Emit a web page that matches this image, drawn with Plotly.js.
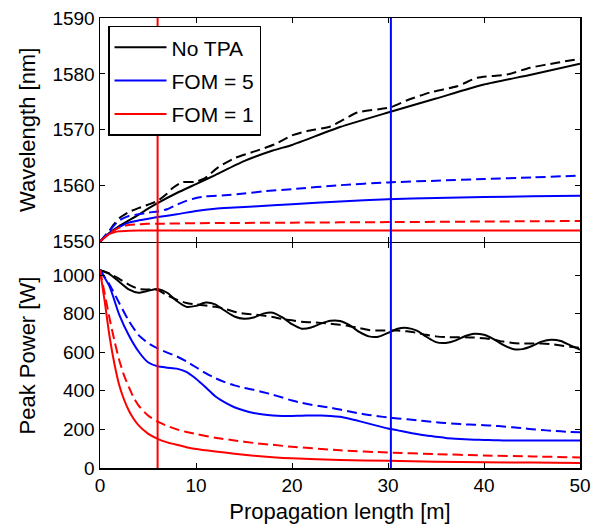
<!DOCTYPE html>
<html>
<head>
<meta charset="utf-8">
<script src="https://cdn.plot.ly/plotly-3.0.1.min.js"></script>
<style>html,body{margin:0;padding:0;background:#fff;}#chart{width:601px;height:527px;}</style>
</head>
<body>
<div id="chart"></div>
<script>
// ---- Top panel: wavelength [nm] ----
var wlNoTpaX = [0,1,2,3,4,5,6,8,10,12,15,18,20,25,30,35,40,45,50];
var wlNoTpaY = [1550,1551.6,1552.8,1553.8,1554.8,1555.9,1556.9,1558.7,1560.3,1561.9,1564.4,1566.3,1567.3,1570.5,1573.1,1575.6,1578.1,1579.9,1581.8];
var wlNoTpaDX = [0,1,1.4,2,3,4,5,6,7,7.5,8.5,9.9,10.9,12.3,14.1,16.2,18.2,20,21.6,24,26.8,30.2,32,34.4,37.2,39.3,42.4,44.8,47.6,50];
var wlNoTpaDY = [1550,1552,1553,1554.2,1555.3,1556,1556.6,1557.3,1558.6,1559.5,1560.6,1560.7,1561.3,1563.3,1565.0,1566.2,1567.4,1569.0,1569.8,1570.6,1573.1,1574.0,1575.3,1576.7,1577.8,1579.3,1579.9,1581.1,1582.0,1582.7];
var wlFom5X = [0,1,2,3,4,5,6,8,10,12,14,16,20,25,30,35,40,45,50];
var wlFom5Y = [1550,1551.5,1552.6,1553.4,1553.8,1554.1,1554.4,1554.9,1555.5,1555.9,1556.1,1556.3,1556.7,1557.2,1557.6,1557.8,1558.0,1558.1,1558.2];
var wlFom5DX = [0,1,2,3,4,5,6,7,8,9,10,11,13,15,17,20,25,30,35,40,45,50];
var wlFom5DY = [1550,1552,1553.8,1554.6,1554.9,1555.2,1555.4,1555.8,1556.6,1557.3,1557.8,1558.1,1558.3,1558.6,1559.0,1559.4,1560.1,1560.6,1560.9,1561.2,1561.5,1561.8];
var wlFom1X = [0,0.5,1,1.5,2,3,4,6,10,20,30,40,50];
var wlFom1Y = [1550,1550.8,1551.4,1551.7,1551.85,1551.95,1552,1552,1552,1552,1552,1552,1552];
var wlFom1DX = [0,1,2,3,4,5,6,10,20,30,40,50];
var wlFom1DY = [1550,1551.5,1552.5,1553,1553.1,1553.2,1553.2,1553.3,1553.4,1553.5,1553.6,1553.7];

// ---- Bottom panel: peak power [W] ----
var pX = [0,1,2,3,4,5,6,7,8,9,10,11,12,13,14,15,16,17,18,19,20,21,22,23,24,25,26,27,28,29,30,31,32,33,34,35,36,37,38,39,40,41,42,43,44,45,46,47,48,49,50];
var pNoTpa = [1025,1005,965,925,908,918,927,908,865,835,840,857,848,815,785,773,780,800,805,780,745,722,728,748,763,762,740,705,682,680,700,722,726,712,680,652,648,660,683,696,690,668,638,617,616,632,655,665,658,635,613];
var pNoTpaD = [1025,1008,980,950,928,925,922,895,872,855,848,842,835,825,810,800,795,790,782,772,765,758,755,752,748,742,735,725,715,712,712,712,708,700,690,682,678,678,678,676,672,665,655,648,645,645,645,642,635,628,622];
var pFom5 = [1025,940,795,688,605,548,527,520,515,498,462,418,372,340,315,298,285,277,272,270,270,271,272,272,270,265,255,243,230,217,205,195,185,176,168,162,156,152,149,147,145,144,143,143,142,142,142,142,142,143,143];
var pFom5D = [1025,950,855,762,690,648,620,598,578,552,522,492,466,445,428,415,405,393,380,365,350,338,328,320,312,303,293,283,275,268,262,257,252,247,242,237,233,229,226,224,222,219,215,211,206,201,197,193,190,187,185];
var pRedX = [0,0.5,1,1.5,2,2.5,3,3.5,4,5,6,7,8,9,10,12,14,16,18,20,25,30,35,40,45,50];
var pFom1 = [1025,860,680,540,430,355,298,255,222,178,151,133,120,108,99,86,74,64,56,50,42,37,33,30,28,26];
var pFom1D = [1025,900,775,660,560,480,420,365,325,272,240,218,200,187,176,157,143,130,120,110,92,80,72,65,60,55];

var markerX = [6, 30.3];
var markerColors = ['#ff0000', '#0000ff'];
var legendNames = ['No TPA', 'FOM = 5', 'FOM = 1'];

var BLACK = '#000000', BLUE = '#0000ff', RED = '#ff0000';
var DASH = '10px,5px';
function tr(x, y, color, dash, xa, ya, name, show, grp) {
  return {x: x, y: y, type: 'scatter', mode: 'lines', xaxis: xa, yaxis: ya,
    name: name || '', showlegend: !!show, legendgroup: grp || undefined, hoverinfo: 'skip',
    line: {color: color, width: 2, dash: dash || 'solid', shape: 'spline', smoothing: 0.6}};
}

var data = [
  tr(wlNoTpaX, wlNoTpaY, BLACK, null, 'x2', 'y2', legendNames[0], true, 'g1'),
  tr(wlFom5X, wlFom5Y, BLUE, null, 'x2', 'y2', legendNames[1], true, 'g2'),
  tr(wlFom1X, wlFom1Y, RED, null, 'x2', 'y2', legendNames[2], true, 'g3'),
  tr(wlNoTpaDX, wlNoTpaDY, BLACK, DASH, 'x2', 'y2'),
  tr(wlFom5DX, wlFom5DY, BLUE, DASH, 'x2', 'y2'),
  tr(wlFom1DX, wlFom1DY, RED, DASH, 'x2', 'y2'),
  tr(pX, pNoTpa, BLACK, null, 'x', 'y'),
  tr(pX, pNoTpaD, BLACK, DASH, 'x', 'y'),
  tr(pX, pFom5, BLUE, null, 'x', 'y'),
  tr(pX, pFom5D, BLUE, DASH, 'x', 'y'),
  tr(pRedX, pFom1, RED, null, 'x', 'y'),
  tr(pRedX, pFom1D, RED, DASH, 'x', 'y')
];

var FONT = 'Liberation Sans, Arial, Helvetica, sans-serif';
var axBase = {showline: true, linecolor: '#000', linewidth: 1.5, mirror: 'ticks', ticks: 'inside',
  ticklen: 5, tickwidth: 1, tickcolor: '#000', showgrid: false, zeroline: false,
  tickfont: {family: FONT, size: 19, color: '#000'}};
var plotH = 450;
var split = 0.5013;
var half = 0.75 / plotH;

var shapes = markerX.map(function (v, i) {
  return {type: 'line', xref: 'x', yref: 'paper', x0: v, x1: v, y0: 0, y1: 1,
    line: {color: markerColors[i], width: 2}, layer: 'above'};
});

var layout = {
  width: 601, height: 527,
  margin: {l: 100, r: 21, t: 18, b: 59},
  paper_bgcolor: '#fff', plot_bgcolor: '#fff',
  font: {family: FONT, color: '#000'},
  showlegend: true,
  legend: {x: 0.0167, y: 0.983, xanchor: 'left', yanchor: 'top', bgcolor: '#fff',
    bordercolor: '#000', borderwidth: 1.5, font: {family: FONT, size: 21, color: '#000'},
    itemwidth: 52, traceorder: 'grouped', tracegroupgap: 3},
  xaxis: Object.assign({}, axBase, {domain: [0, 1], anchor: 'y', range: [0, 50], tickvals: [0,10,20,30,40,50],
    title: {text: 'Propagation length [m]', font: {family: FONT, size: 22, color: '#000'}, standoff: 8}}),
  yaxis: Object.assign({}, axBase, {domain: [0, split - half], anchor: 'x', range: [0, 1165], tickvals: [0,200,400,600,800,1000],
    title: {text: 'Peak Power [W]', font: {family: FONT, size: 22, color: '#000'}, standoff: 10}}),
  xaxis2: Object.assign({}, axBase, {domain: [0, 1], anchor: 'y2', matches: 'x', range: [0, 50], tickvals: [0,10,20,30,40,50], showticklabels: false}),
  yaxis2: Object.assign({}, axBase, {domain: [split + half, 1], anchor: 'x2', range: [1550, 1590], tickvals: [1550,1560,1570,1580,1590],
    title: {text: 'Wavelength [nm]', font: {family: FONT, size: 22, color: '#000'}, standoff: 10}}),
  shapes: shapes
};

Plotly.newPlot('chart', data, layout, {staticPlot: true, displayModeBar: false});
</script>
</body>
</html>
